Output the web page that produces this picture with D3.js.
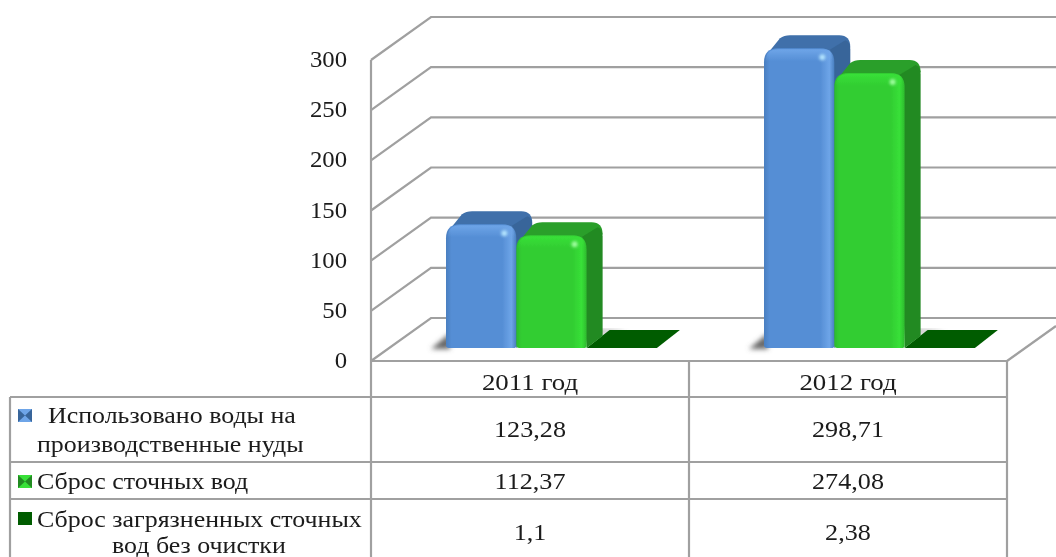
<!DOCTYPE html>
<html><head><meta charset="utf-8">
<script src="https://cdnjs.cloudflare.com/ajax/libs/d3/7.8.5/d3.min.js"></script>
<style>html,body{margin:0;padding:0;background:#fff}svg{display:block}text{font-family:"Liberation Serif","Times New Roman",serif;fill:#1a1a1a}</style>
</head><body><svg id="c" width="1056" height="557"></svg>
<script>
const categories = ["2011 год", "2012 год"];
const seriesNames = [["Использовано воды на", "производственные нуды"], ["Сброс сточных вод"], ["Сброс загрязненных сточных", "вод без очистки"]];
const usedWater = [123.28, 298.71];
const discharge = [112.37, 274.08];
const untreated = [1.1, 2.38];
const yTicks = [0, 50, 100, 150, 200, 250, 300];

const seriesValues = [usedWater, discharge, untreated];
const palette = [
  {mid:"#558ed5", edge:"#4a7fc0", light:"#6ea5e8", top:"#3f70aa", side:"#38659a", spec:"#b5e6ff"},
  {mid:"#32cd32", edge:"#2dbb2d", light:"#38e038", top:"#2a9f2a", side:"#238a23", spec:"#a0ffa0"},
  {mid:"#005c00", edge:"#005c00", light:"#006400", top:"#005500", side:"#005500", spec:"#006400"}
];
const svg = d3.select("#c");
const grid = "#a0a0a0";
const W = 1056;
const y = d3.scaleLinear().domain([0, 300]).range([361, 60]);
const x = d3.scaleBand().domain(categories).range([371, 1007]);
const s = d3.scaleBand().domain([0, 1, 2]).range([75, 75 + 3 * 70.3]);
const fmt = d3.formatLocale({decimal: ",", thousands: " ", grouping: [3], currency: ["", ""]}).format(".2~f");
const wall = {dx: 60, dy: -43};
const defs = svg.append("defs");
defs.append("filter").attr("id", "soft").append("feGaussianBlur").attr("stdDeviation", 0.45);
const sf = defs.append("filter").attr("id", "shade").attr("x", "-50%").attr("y", "-50%").attr("width", "200%").attr("height", "200%");
sf.append("feGaussianBlur").attr("stdDeviation", 2.5);
const sp = defs.append("filter").attr("id", "glow").attr("x", "-100%").attr("y", "-100%").attr("width", "300%").attr("height", "300%");
sp.append("feGaussianBlur").attr("stdDeviation", 1.6);
palette.forEach((p, i) => {
  const g = defs.append("linearGradient").attr("id", "face" + i);
  [[0, p.edge], [0.08, p.mid], [0.8, p.mid], [0.93, p.light], [1, p.edge]].forEach(d =>
    g.append("stop").attr("offset", d[0]).attr("stop-color", d[1]));
  const t = defs.append("linearGradient").attr("id", "cap" + i).attr("x1", 0).attr("x2", 0).attr("y1", 0).attr("y2", 1);
  t.append("stop").attr("offset", 0).attr("stop-color", p.light);
  t.append("stop").attr("offset", 1).attr("stop-color", p.light).attr("stop-opacity", 0);
});

const root = svg.append("g").attr("filter", "url(#soft)");

// walls and floor
const gl = root.append("g").attr("fill", "none").attr("stroke", grid).attr("stroke-width", 2.2);
yTicks.forEach(t => {
  gl.append("path").attr("d", `M${x.range()[0]},${y(t)}L${x.range()[0] + wall.dx},${y(t) + wall.dy}L${W},${y(t) + wall.dy}`);
});
gl.append("path").attr("d", `M${x.range()[0]},${y(300)}L${x.range()[0]},${y(0)}`);
gl.append("path").attr("d", `M${x.range()[1]},${y(0)}L${W},${y(0) - 35}`);

// horizontally stretched text, anchored at x
const label = (parent, tx, ty, t, anchor, sx, size) =>
  parent.append("text").attr("transform", `translate(${tx},${ty}) scale(${sx},1)`)
    .attr("text-anchor", anchor).attr("font-size", size).text(t);

const axisG = root.append("g");
yTicks.forEach(t => label(axisG, 347, y(t) + 7, t, "end", 1.03, 24));

// bars
const floorLift = 13;
const by = v => y(v) - floorLift;
const base = by(0);
const depth = {dx: 16, dy: -13};
const flat = {dx: 23, dy: -18};
categories.forEach((c, ci) => {
  const g = root.append("g");
  const x0 = x(c) + s(0);
  g.append("path").attr("d", `M${x0 - 15},${base + 1}L${x0 + 4},${base + 1}L${x0 + 4},${base - 15}Z`)
    .attr("fill", "#666").attr("filter", "url(#shade)");
  const x2 = x(c) + s(2);
  g.append("path").attr("d", `M${x2 + 8},${base - 14}L${x2 + 40},${base - 18}L${x2 + 8},${base - 18}Z`)
    .attr("fill", "#999").attr("filter", "url(#shade)");
  [2, 0, 1].forEach(i => {
    const v = seriesValues[i][ci];
    const bx = x(c) + s(i);
    const w = s.bandwidth();
    const top = by(v);
    const p = palette[i];
    if (i === 2) {
      g.append("path").attr("d", `M${bx},${base}L${bx + w},${base}L${bx + w + flat.dx},${base + flat.dy}L${bx + flat.dx},${base + flat.dy}Z`)
        .attr("fill", p.mid);
      return;
    }
    const r = 14;
    const right = bx + w;
    const bt = top + depth.dy;
    // top cap
    g.append("path").attr("d", `M${bx + 3},${top + 6}L${bx + 16},${bt + 3}Q${bx + 20},${bt} ${bx + 26},${bt}L${right + depth.dx - 11},${bt}Q${right + depth.dx},${bt} ${right + depth.dx},${bt + 12}L${right},${top + 14}Z`)
      .attr("fill", p.top);
    // side
    g.append("path").attr("d", `M${right - 7},${top + 3}L${right + depth.dx - 5},${bt + 5}Q${right + depth.dx},${bt + 7} ${right + depth.dx},${bt + 14}L${right + depth.dx},${base - 12}L${right},${base}Z`)
      .attr("fill", p.side);
    // front
    const front = `M${bx},${base - 3}L${bx},${top + r}Q${bx},${top} ${bx + r},${top}L${right - r},${top}Q${right},${top} ${right},${top + r}L${right},${base - 2}Q${right},${base} ${right - 3},${base}L${bx + 3},${base}Q${bx},${base} ${bx},${base - 3}Z`;
    g.append("path").attr("d", front).attr("fill", `url(#face${i})`);
    g.append("path").attr("d", `M${bx + 2},${top + 12}Q${bx + 2},${top + 1} ${bx + r},${top + 1}L${right - r},${top + 1}Q${right - 2},${top + 1} ${right - 2},${top + 12}L${right - 2},${top + 13}L${bx + 2},${top + 13}Z`)
      .attr("fill", `url(#cap${i})`);
    g.append("circle").attr("cx", right - 12).attr("cy", top + 9).attr("r", 3).attr("fill", p.spec).attr("filter", "url(#glow)");
  });
});

// data table
const rows = [361, 397, 462, 499, 557];
const tl = 10;
const tg = root.append("g").attr("fill", "none").attr("stroke", grid).attr("stroke-width", 2.2);
tg.append("path").attr("d", `M${x.range()[0]},${rows[0]}L${x.range()[1]},${rows[0]}`);
rows.slice(1, 4).forEach(r => tg.append("path").attr("d", `M${tl},${r}L${x.range()[1]},${r}`));
tg.append("path").attr("d", `M${tl},${rows[1]}L${tl},${rows[4]}`);
tg.append("path").attr("d", `M${x.range()[0]},${rows[0]}L${x.range()[0]},${rows[4]}`);
categories.forEach(c => {
  const cx = x(c) + x.bandwidth();
  tg.append("path").attr("d", `M${cx},${rows[0]}L${cx},${rows[4]}`);
});

const textG = root.append("g");
categories.forEach((c, i) => {
  const cx = x(c) + x.bandwidth() / 2;
  label(textG, cx, rows[0] + 29, c, "middle", 1.12, 24);
  seriesValues.forEach((vals, si) => {
    label(textG, cx, [437, 489, 540][si], fmt(vals[i]), "middle", 1.09, 24);
  });
});

// row headers
const lineX = [[48, 37], [37], [37, 112]];
const lineY = [[423, 452], [489], [527, 553]];
const lineS = [[1.08, 1.08], [1.08], [1.08, 1.08]];
seriesNames.forEach((lines, i) => lines.forEach((t, j) => {
  label(textG, lineX[i][j], lineY[i][j], t, "start", lineS[i][j], 24);
}));
const keyY = [409, 475, 512];
palette.forEach((p, i) => {
  const k = root.append("g").attr("transform", `translate(18,${keyY[i]})`);
  k.append("rect").attr("width", 14).attr("height", 13).attr("fill", i === 2 ? p.mid : p.light);
  if (i < 2) {
    k.append("path").attr("d", "M0,0L7,6.5L0,13Z M14,0L7,6.5L14,13Z").attr("fill", p.side);
  }
});
</script></body></html>
